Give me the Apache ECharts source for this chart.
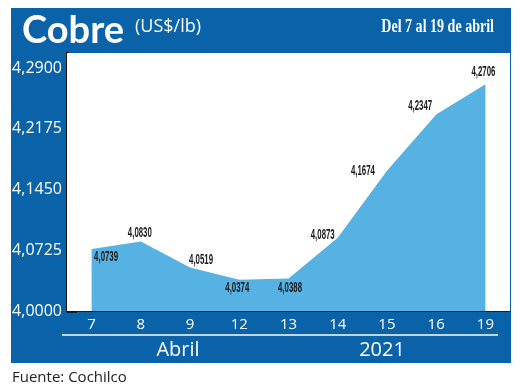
<!DOCTYPE html>
<html>
<head>
<meta charset="utf-8">
<script src="https://cdn.jsdelivr.net/npm/echarts@6/dist/echarts.min.js"></script>
<style>html,body{margin:0;padding:0;background:#fff}#c{width:520px;height:390px}</style>
</head>
<body>
<div id="c"></div>
<script>
const categories = ['7', '8', '9', '12', '13', '14', '15', '16', '19'];
const values = [4.0739, 4.0830, 4.0519, 4.0374, 4.0388, 4.0873, 4.1674, 4.2347, 4.2706];
const yTicks = [4.0, 4.0725, 4.145, 4.2175, 4.29];
const groupLabels = ['Abril', '2021'];
const titleText = 'Cobre';
const unitText = '(US$/lb)';
const periodText = 'Del 7 al 19 de abril';
const sourceText = 'Fuente: Cochilco';

const BLUE = '#0a62a9';
const AREA = '#56b2e3';
const fmt = v => v.toFixed(4).replace('.', ',');

// label placement per point, pixel offset from the point (style, not data)
const labelPlace = [
  [2.5, 8, 'left'], [-1, -8, 'center'], [-1, -7.5, 'left'],
  [-2, 8.5, 'center'], [1.5, 9.5, 'center'], [-3, -3, 'right'],
  [-12, 0, 'right'], [-4, -8, 'right'], [-2, -12, 'center']
];

const baseGraphics = [
  {type: 'rect', z: -100, silent: true, shape: {x: 11, y: 8, width: 500, height: 355}, style: {fill: BLUE}},
  {type: 'text', z: 100, x: 22, y: 31, style: {text: titleText, fill: '#fff', font: 'bold 38px Lato', verticalAlign: 'middle'}},
  {type: 'text', z: 100, x: 135, y: 27, style: {text: unitText, fill: '#fff', font: '18px "Open Sans"', verticalAlign: 'middle'}},
  {type: 'text', z: 100, x: 494, y: 27, scaleX: 0.78, style: {text: periodText, fill: '#fff', font: 'bold 18px "Liberation Serif"', align: 'right', verticalAlign: 'middle'}},
  {type: 'line', z: 100, shape: {x1: 62, y1: 335, x2: 498, y2: 335}, style: {stroke: '#fff', lineWidth: 1.5}},
  {type: 'text', z: 100, x: 178, y: 350, style: {text: groupLabels[0], fill: '#fff', font: '20px "Open Sans"', align: 'center', verticalAlign: 'middle'}},
  {type: 'text', z: 100, x: 382, y: 350, style: {text: groupLabels[1], fill: '#fff', font: '20px "Open Sans"', align: 'center', verticalAlign: 'middle'}},
  {type: 'text', z: 100, x: 12, y: 378, style: {text: sourceText, fill: '#222', font: '15px "Open Sans"', verticalAlign: 'middle'}}
];

const chart = echarts.init(document.getElementById('c'), null, {renderer: 'canvas'});
chart.setOption({
  animation: false,
  grid: {left: 67, right: 10, top: 53, bottom: 79, show: true, backgroundColor: '#ffffff', borderWidth: 0, z: 1},
  xAxis: {
    type: 'category',
    data: categories,
    boundaryGap: true,
    axisLine: {lineStyle: {color: '#111', width: 1.5}},
    axisTick: {show: false},
    axisLabel: {color: '#ffffff', fontSize: 15, fontFamily: 'Open Sans', margin: 6}
  },
  yAxis: {
    type: 'value',
    min: 4.0,
    max: 4.308,
    splitLine: {show: false},
    axisLine: {show: true, lineStyle: {color: '#111', width: 3}},
    axisTick: {show: true, inside: true, length: 10, lineStyle: {color: '#111', width: 2.5}, customValues: yTicks},
    axisLabel: {color: '#ffffff', fontSize: 16, fontFamily: 'Open Sans', margin: 5, customValues: yTicks, formatter: fmt}
  },
  series: [{
    type: 'line',
    data: values,
    symbol: 'none',
    lineStyle: {width: 0},
    areaStyle: {color: AREA, opacity: 1},
    z: 3
  }],
  graphic: {elements: baseGraphics}
});

// value labels placed through the chart's own coordinate conversion
const labelGraphics = values.map((v, i) => {
  const p = chart.convertToPixel({seriesIndex: 0}, [i, v]);
  const pl = labelPlace[i];
  return {
    type: 'text', z: 100, silent: true,
    x: p[0] + pl[0], y: p[1] + pl[1], scaleX: 0.56,
    style: {text: fmt(v), fill: '#1a1a1a', font: 'bold 14px "Liberation Sans"', align: pl[2], verticalAlign: 'middle'}
  };
});
chart.setOption({graphic: {elements: baseGraphics.concat(labelGraphics)}});
</script>
</body>
</html>
